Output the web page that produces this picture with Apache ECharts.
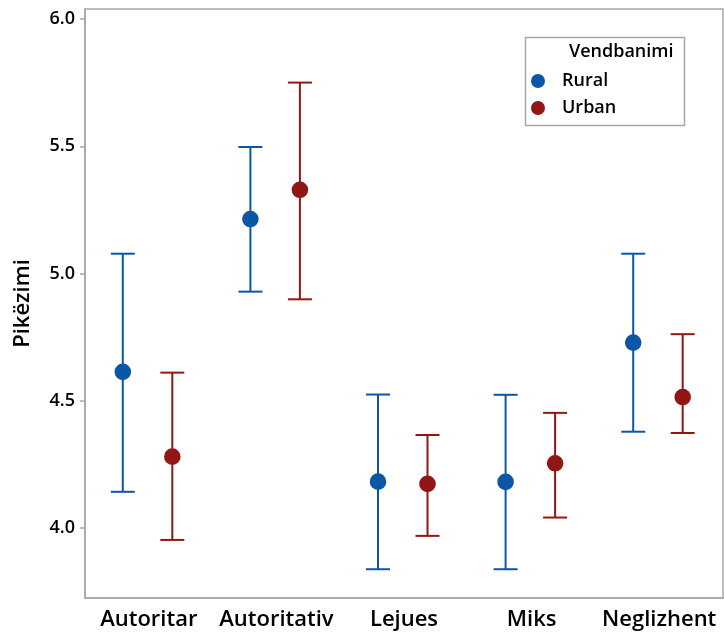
<!DOCTYPE html>
<html>
<head>
<meta charset="utf-8">
<script src="https://cdn.jsdelivr.net/npm/echarts@6/dist/echarts.min.js"></script>
<style>html,body{margin:0;padding:0;background:#fff}#c{width:724px;height:634px}</style>
</head>
<body>
<div id="c"></div>
<script>
const categories = ['Autoritar', 'Autoritativ', 'Lejues', 'Miks', 'Neglizhent'];
const groups = ['Rural', 'Urban'];
const ruralMean = [4.614, 5.214, 4.183, 4.182, 4.729];
const ruralLow  = [4.143, 4.929, 3.839, 3.839, 4.379];
const ruralHigh = [5.078, 5.497, 4.525, 4.524, 5.078];
const urbanMean = [4.281, 5.329, 4.174, 4.255, 4.515];
const urbanLow  = [3.954, 4.899, 3.970, 4.042, 4.374];
const urbanHigh = [4.611, 5.750, 4.366, 4.453, 4.762];
const yTicks = [4.0, 4.5, 5.0, 5.5, 6.0];

const FONT = '"Open Sans", sans-serif';
const colors = {Rural: '#0B57A6', Urban: '#921616'};
const offsets = {Rural: -26, Urban: 23.5};

function buildData(mean, low, high) {
  return categories.map((c, i) => [i, mean[i], low[i], high[i]]);
}

function makeSeries(name, mean, low, high) {
  const color = colors[name];
  const off = offsets[name];
  return {
    name: name,
    type: 'custom',
    itemStyle: {color: color},
    data: buildData(mean, low, high),
    encode: {x: 0, y: [1, 2, 3]},
    renderItem: function (params, api) {
      const i = api.value(0);
      const pm = api.coord([i, api.value(1)]);
      const pl = api.coord([i, api.value(2)]);
      const ph = api.coord([i, api.value(3)]);
      const x = pm[0] + off;
      const capW = 12;
      const ls = {stroke: color, lineWidth: 2};
      return {
        type: 'group',
        children: [
          {type: 'line', shape: {x1: x, y1: ph[1], x2: x, y2: pl[1]}, style: ls},
          {type: 'line', shape: {x1: x - capW, y1: ph[1], x2: x + capW, y2: ph[1]}, style: ls},
          {type: 'line', shape: {x1: x - capW, y1: pl[1], x2: x + capW, y2: pl[1]}, style: ls},
          {type: 'circle', shape: {cx: x, cy: pm[1], r: 8.3}, style: {fill: color}}
        ]
      };
    }
  };
}

const chart = echarts.init(document.getElementById('c'), null, {renderer: 'canvas'});
chart.setOption({
  animation: false,
  backgroundColor: '#ffffff',
  grid: {left: 85, right: 1, top: 9, bottom: 36, show: true, borderColor: '#a6a6a6', borderWidth: 1.5,
    containLabel: false, outerBoundsMode: 'none'},
  xAxis: {
    type: 'category',
    data: categories,
    boundaryGap: true,
    axisLine: {lineStyle: {color: '#a6a6a6', width: 1.5}},
    axisTick: {alignWithLabel: true, length: 5, lineStyle: {color: '#a6a6a6', width: 1.5}},
    axisLabel: {color: '#000', fontFamily: FONT, fontWeight: 600, fontSize: 22, margin: 11, interval: 0,
      hideOverlap: false},
    splitLine: {show: false}
  },
  yAxis: {
    type: 'value',
    min: 3.726,
    max: 6.039,
    name: 'Pikëzimi',
    nameLocation: 'middle',
    nameGap: 51,
    nameRotate: 90,
    nameTextStyle: {color: '#000', fontFamily: FONT, fontWeight: 600, fontSize: 22},
    axisLine: {show: true, lineStyle: {color: '#a6a6a6', width: 1.5}},
    axisTick: {show: true, length: 5, customValues: yTicks, lineStyle: {color: '#a6a6a6', width: 1.5}},
    axisLabel: {color: '#000', fontFamily: FONT, fontWeight: 600, fontSize: 18, margin: 10,
      customValues: yTicks, formatter: v => v.toFixed(1)},
    splitLine: {show: false}
  },
  legend: {
    data: groups.map(g => ({name: g, icon: 'circle'})),
    orient: 'vertical',
    left: 526,
    top: 66,
    itemWidth: 38,
    itemHeight: 14,
    itemGap: 7,
    selectedMode: false,
    textStyle: {color: '#000', fontFamily: FONT, fontWeight: 600, fontSize: 18, lineHeight: 20, padding: [0, 0, 0, 0]}
  },
  graphic: [
    {type: 'rect', left: 523, top: 35, shape: {width: 159, height: 88},
      style: {fill: 'none', stroke: '#a6a6a6', lineWidth: 1.5}, z: 10},
    {type: 'text', x: 569, y: 52,
      style: {text: 'Vendbanimi', fill: '#000', font: '600 18px "Open Sans", sans-serif', verticalAlign: 'middle'}, z: 11}
  ],
  series: [
    makeSeries('Rural', ruralMean, ruralLow, ruralHigh),
    makeSeries('Urban', urbanMean, urbanLow, urbanHigh)
  ]
});
</script>
</body>
</html>
